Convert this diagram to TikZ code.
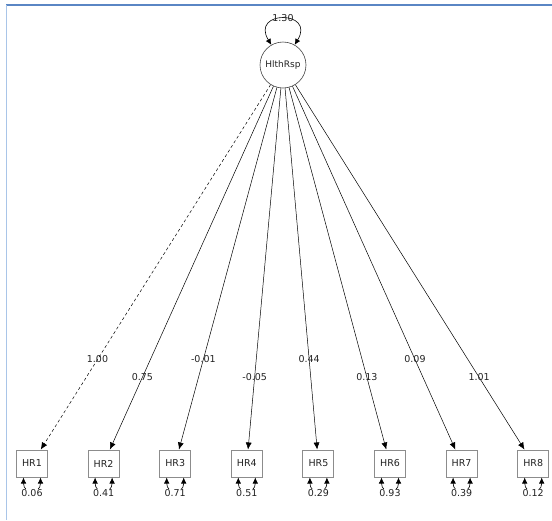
\documentclass[tikz,border=0pt]{standalone}
\usepackage{fontspec}
\setmainfont{DejaVu Sans}
\usetikzlibrary{arrows.meta,calc}
\definecolor{frametop}{HTML}{5A86C4}
\definecolor{frameleft}{HTML}{A9C5E8}
\definecolor{boxline}{HTML}{8C8C8C}
\definecolor{txt}{HTML}{222222}
\tikzset{
  lat/.style={circle,draw=black!75,line width=0.6pt,minimum size=46pt,inner sep=0pt,
    font=\fontsize{9}{10}\selectfont,text=txt},
  manifest/.style={rectangle,draw=boxline,line width=1pt,minimum width=31pt,minimum height=27pt,
    inner sep=0pt,fill=white,font=\fontsize{9.5}{11}\selectfont,text=txt},
  est/.style={inner sep=0pt,font=\fontsize{9.5}{11}\selectfont,text=txt},
  residest/.style={est,fill=white,inner sep=0.6pt},
  load/.style={draw=black,line width=0.5pt,-{Latex[length=7pt,width=6pt]}},
  fixedload/.style={load,dash pattern=on 3pt off 2.5pt},
  resid/.style={draw=black,line width=0.6pt,{Latex[length=6pt,width=5.5pt]}-{Latex[length=6pt,width=5.5pt]}},
}
\begin{document}
\begin{tikzpicture}[x=1pt,y=-1pt]
\useasboundingbox (0,0) rectangle (552,520);
% window frame
\draw[frametop,line width=1.3pt] (6,5) -- (552,5);
\draw[frameleft,line width=1.6pt] (6.5,5) -- (6.5,520);

% latent factor
\node[lat] (f) at (283,65) {HlthRsp};

% indicators
\foreach \i/\x in {1/32,2/103.6,3/175.2,4/246.8,5/318.4,6/390,7/461.6,8/533.2}{
  \node[manifest] (hr\i) at (\x,463.5) {HR\i};
}

% factor variance
\draw[resid] (f.120) .. controls (250,10) and (316,10) .. (f.60);
\node[est] (fv) at (283,18) {1.30};

% loadings
\draw[fixedload] (f) -- (hr1);
\foreach \i in {2,...,8}{ \draw[load] (f) -- (hr\i); }

\foreach \i/\p/\v in {1/0.739/1.00,2/0.784/0.75,3/0.739/-0.01,4/0.784/-0.05,
                      5/0.739/0.44,6/0.784/0.13,7/0.739/0.09,8/0.784/1.01}{
  \node[est] (l\i) at ($(f)!\p!(hr\i)$) {\v};
}

% residual variances
\foreach \i/\v in {1/0.06,2/0.41,3/0.71,4/0.51,5/0.29,6/0.93,7/0.39,8/0.12}{
  \coordinate (ra\i) at ($(hr\i.south)+(-8.5,0)$);
  \coordinate (rb\i) at ($(hr\i.south)+(8.5,0)$);
  \draw[resid] (ra\i) .. controls ($(ra\i)+(0,17)$) and ($(rb\i)+(0,17)$) .. (rb\i);
  \node[residest] (r\i) at ($(hr\i.south)+(0,16)$) {\v};
}
\end{tikzpicture}
\end{document}
